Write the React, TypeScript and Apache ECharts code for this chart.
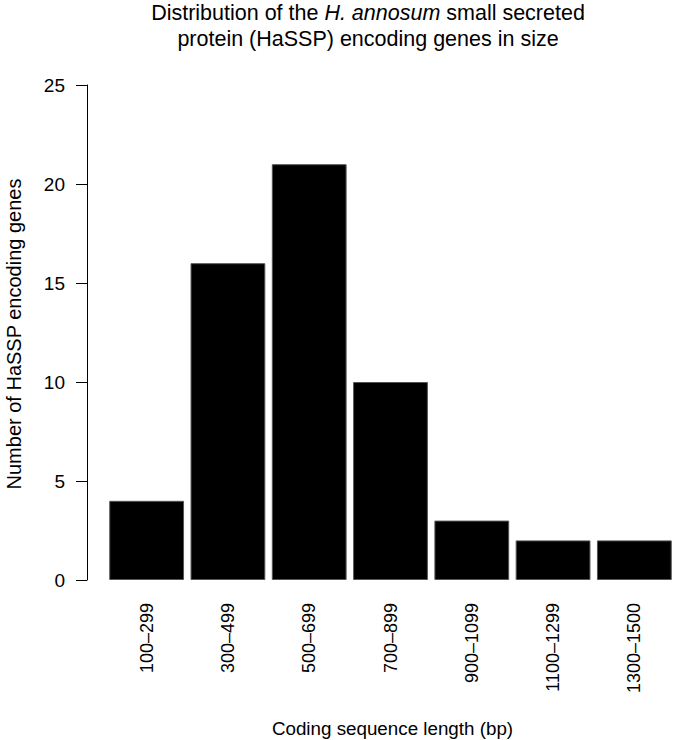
import React, { useEffect, useRef } from "react";
import * as echarts from "echarts";

const categories = ["100–299", "300–499", "500–699", "700–899", "900–1099", "1100–1299", "1300–1500"];
const counts = [4, 16, 21, 10, 3, 2, 2];
const yTicks = { min: 0, max: 25, interval: 5 };

const FONT = "Liberation Sans, Arial, Helvetica, sans-serif";

export default function App() {
  const ref = useRef<HTMLDivElement>(null);
  useEffect(() => {
    if (!ref.current) return;
    const chart = echarts.init(ref.current, null, { renderer: "svg" });
    chart.setOption({
      animation: false,
      backgroundColor: "#fff",
      textStyle: { fontFamily: FONT },
      grid: { left: 106, top: 85, width: 569, height: 495, containLabel: false },
      xAxis: {
        type: "category",
        data: categories,
        axisLine: { show: false },
        axisTick: { show: false },
        axisLabel: { rotate: 90, margin: 23, fontSize: 18, color: "#000", fontFamily: FONT, interval: 0 },
        splitLine: { show: false },
      },
      yAxis: {
        type: "value",
        min: yTicks.min,
        max: yTicks.max,
        interval: yTicks.interval,
        offset: 19,
        axisLine: { show: true, lineStyle: { color: "#000", width: 1 } },
        axisTick: { show: true, length: 11, lineStyle: { color: "#000", width: 1 } },
        axisLabel: { margin: 22, fontSize: 19, color: "#000", fontFamily: FONT },
        splitLine: { show: false },
      },
      series: [
        {
          type: "bar",
          data: counts,
          barCategoryGap: "8%",
          itemStyle: { color: "#000", borderColor: "#555", borderWidth: 1 },
        },
      ],
      graphic: [
        {
          type: "text",
          x: 368,
          y: 13,
          style: {
            text: "{a|Distribution of the }{i|H. annosum}{a| small secreted}",
            align: "center",
            verticalAlign: "middle",
            rich: {
              a: { fontSize: 21.5, fontFamily: FONT, fill: "#000", fontStyle: "normal" },
              i: { fontSize: 21.5, fontFamily: FONT, fill: "#000", fontStyle: "italic" },
            },
          },
        },
        {
          type: "text",
          x: 368,
          y: 39,
          style: {
            text: "protein (HaSSP) encoding genes in size",
            align: "center",
            verticalAlign: "middle",
            fontSize: 21.5,
            fontFamily: FONT,
            fill: "#000",
          },
        },
        {
          type: "text",
          x: 13.5,
          y: 334,
          rotation: Math.PI / 2,
          style: {
            text: "Number of HaSSP encoding genes",
            align: "center",
            verticalAlign: "middle",
            fontSize: 20,
            fontFamily: FONT,
            fill: "#000",
          },
        },
        {
          type: "text",
          x: 392.5,
          y: 728.5,
          style: {
            text: "Coding sequence length (bp)",
            align: "center",
            verticalAlign: "middle",
            fontSize: 18.8,
            fontFamily: FONT,
            fill: "#000",
          },
        },
      ],
    });
    return () => chart.dispose();
  }, []);
  return (
    <div
      ref={ref}
      style={{ position: "fixed", left: 0, top: 0, width: 675, height: 740, background: "#fff" }}
    />
  );
}
